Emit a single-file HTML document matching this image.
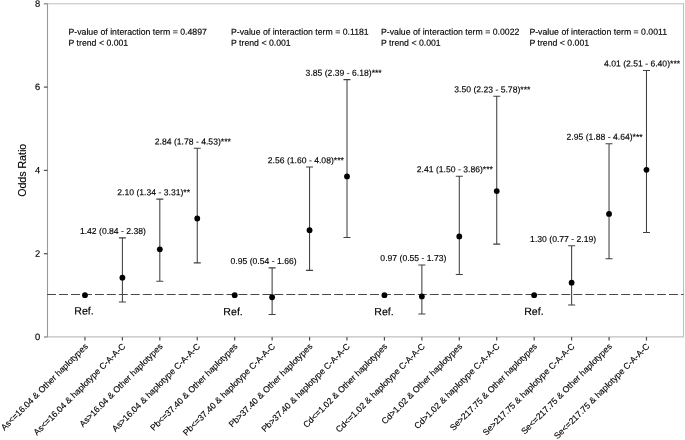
<!DOCTYPE html><html><head><meta charset="utf-8"><style>html,body{margin:0;padding:0;background:#fff}svg{display:block;will-change:transform;filter:grayscale(1)}text{font-family:"Liberation Sans",sans-serif;fill:#000;stroke:#000;stroke-width:0.14}</style></head><body>
<svg width="685" height="440" viewBox="0 0 685 440">
<rect width="685" height="440" fill="#fff"/>
<path d="M47.5 3.8H683.5V336.9H47.5" fill="none" stroke="#c0c0c0" stroke-width="1.1"/>
<path d="M47.5 3.8V337.0" fill="none" stroke="#989898" stroke-width="1.1"/>
<path d="M43.9 337.00H47.5" stroke="#808080" stroke-width="1.2"/>
<text transform="translate(40.1 340.00) rotate(0.03)" font-size="9.33" text-anchor="end">0</text>
<path d="M43.9 253.70H47.5" stroke="#505050" stroke-width="1.2"/>
<text transform="translate(40.1 256.70) rotate(0.03)" font-size="9.33" text-anchor="end">2</text>
<path d="M43.9 170.40H47.5" stroke="#505050" stroke-width="1.2"/>
<text transform="translate(40.1 173.40) rotate(0.03)" font-size="9.33" text-anchor="end">4</text>
<path d="M43.9 87.10H47.5" stroke="#505050" stroke-width="1.2"/>
<text transform="translate(40.1 90.10) rotate(0.03)" font-size="9.33" text-anchor="end">6</text>
<path d="M43.9 3.80H47.5" stroke="#808080" stroke-width="1.2"/>
<text transform="translate(40.1 6.80) rotate(0.03)" font-size="9.33" text-anchor="end">8</text>
<path d="M84.95 337.0V340.6" stroke="#505050" stroke-width="1.2"/>
<path d="M122.39 337.0V340.6" stroke="#505050" stroke-width="1.2"/>
<path d="M159.82 337.0V340.6" stroke="#505050" stroke-width="1.2"/>
<path d="M197.25 337.0V340.6" stroke="#505050" stroke-width="1.2"/>
<path d="M234.69 337.0V340.6" stroke="#505050" stroke-width="1.2"/>
<path d="M272.12 337.0V340.6" stroke="#505050" stroke-width="1.2"/>
<path d="M309.56 337.0V340.6" stroke="#505050" stroke-width="1.2"/>
<path d="M347.00 337.0V340.6" stroke="#505050" stroke-width="1.2"/>
<path d="M384.43 337.0V340.6" stroke="#505050" stroke-width="1.2"/>
<path d="M421.87 337.0V340.6" stroke="#505050" stroke-width="1.2"/>
<path d="M459.30 337.0V340.6" stroke="#505050" stroke-width="1.2"/>
<path d="M496.74 337.0V340.6" stroke="#505050" stroke-width="1.2"/>
<path d="M534.17 337.0V340.6" stroke="#505050" stroke-width="1.2"/>
<path d="M571.61 337.0V340.6" stroke="#505050" stroke-width="1.2"/>
<path d="M609.04 337.0V340.6" stroke="#505050" stroke-width="1.2"/>
<path d="M646.48 337.0V340.6" stroke="#505050" stroke-width="1.2"/>
<path d="M47.1 294.50H683.5" stroke="#484848" stroke-width="1.15" stroke-dasharray="8.9 3.06"/>
<path d="M122.39 302.01V237.87M118.89 302.01H125.89M118.89 237.87H125.89" stroke="#404040" stroke-width="1.05" fill="none"/>
<path d="M159.82 281.19V199.14M156.32 281.19H163.32M156.32 199.14H163.32" stroke="#404040" stroke-width="1.05" fill="none"/>
<path d="M197.25 262.86V148.33M193.75 262.86H200.75M193.75 148.33H200.75" stroke="#404040" stroke-width="1.05" fill="none"/>
<path d="M272.12 314.51V267.86M268.62 314.51H275.62M268.62 267.86H275.62" stroke="#404040" stroke-width="1.05" fill="none"/>
<path d="M309.56 270.36V167.07M306.06 270.36H313.06M306.06 167.07H313.06" stroke="#404040" stroke-width="1.05" fill="none"/>
<path d="M347.00 237.46V79.60M343.50 237.46H350.50M343.50 79.60H350.50" stroke="#404040" stroke-width="1.05" fill="none"/>
<path d="M421.87 314.09V264.95M418.37 314.09H425.37M418.37 264.95H425.37" stroke="#404040" stroke-width="1.05" fill="none"/>
<path d="M459.30 274.52V176.23M455.80 274.52H462.80M455.80 176.23H462.80" stroke="#404040" stroke-width="1.05" fill="none"/>
<path d="M496.74 244.12V96.26M493.24 244.12H500.24M493.24 96.26H500.24" stroke="#404040" stroke-width="1.05" fill="none"/>
<path d="M571.61 304.93V245.79M568.11 304.93H575.11M568.11 245.79H575.11" stroke="#404040" stroke-width="1.05" fill="none"/>
<path d="M609.04 258.70V143.74M605.54 258.70H612.54M605.54 143.74H612.54" stroke="#404040" stroke-width="1.05" fill="none"/>
<path d="M646.48 232.46V70.44M642.98 232.46H649.98M642.98 70.44H649.98" stroke="#404040" stroke-width="1.05" fill="none"/>
<circle cx="84.95" cy="295.15" r="2.9" fill="#000"/>
<text transform="translate(83.95 314.60) rotate(0.03)" font-size="10.6" text-anchor="middle">Ref.</text>
<circle cx="122.39" cy="277.66" r="2.9" fill="#000"/>
<text transform="translate(79.89 233.97) rotate(0.03)" font-size="8.62">1.42 (0.84 - 2.38)</text>
<circle cx="159.82" cy="249.34" r="2.9" fill="#000"/>
<text transform="translate(117.32 195.24) rotate(0.03)" font-size="8.62">2.10 (1.34 - 3.31)**</text>
<circle cx="197.25" cy="218.51" r="2.9" fill="#000"/>
<text transform="translate(154.75 144.43) rotate(0.03)" font-size="8.62">2.84 (1.78 - 4.53)***</text>
<circle cx="234.69" cy="295.15" r="2.9" fill="#000"/>
<text transform="translate(233.09 315.30) rotate(0.03)" font-size="10.6" text-anchor="middle">Ref.</text>
<circle cx="272.12" cy="297.23" r="2.9" fill="#000"/>
<text transform="translate(230.53 263.96) rotate(0.03)" font-size="8.62">0.95 (0.54 - 1.66)</text>
<circle cx="309.56" cy="230.18" r="2.9" fill="#000"/>
<text transform="translate(267.76 163.17) rotate(0.03)" font-size="8.62">2.56 (1.60 - 4.08)***</text>
<circle cx="347.00" cy="176.45" r="2.9" fill="#000"/>
<text transform="translate(305.60 75.70) rotate(0.03)" font-size="8.62">3.85 (2.39 - 6.18)***</text>
<circle cx="384.43" cy="295.15" r="2.9" fill="#000"/>
<text transform="translate(384.03 315.30) rotate(0.03)" font-size="10.6" text-anchor="middle">Ref.</text>
<circle cx="421.87" cy="296.40" r="2.9" fill="#000"/>
<text transform="translate(380.37 261.05) rotate(0.03)" font-size="8.62">0.97 (0.55 - 1.73)</text>
<circle cx="459.30" cy="236.42" r="2.9" fill="#000"/>
<text transform="translate(416.80 172.33) rotate(0.03)" font-size="8.62">2.41 (1.50 - 3.86)***</text>
<circle cx="496.74" cy="191.03" r="2.9" fill="#000"/>
<text transform="translate(454.24 92.36) rotate(0.03)" font-size="8.62">3.50 (2.23 - 5.78)***</text>
<circle cx="534.17" cy="295.15" r="2.9" fill="#000"/>
<text transform="translate(533.87 315.10) rotate(0.03)" font-size="10.6" text-anchor="middle">Ref.</text>
<circle cx="571.61" cy="282.66" r="2.9" fill="#000"/>
<text transform="translate(530.11 241.89) rotate(0.03)" font-size="8.62">1.30 (0.77 - 2.19)</text>
<circle cx="609.04" cy="213.93" r="2.9" fill="#000"/>
<text transform="translate(566.54 139.84) rotate(0.03)" font-size="8.62">2.95 (1.88 - 4.64)***</text>
<circle cx="646.48" cy="169.78" r="2.9" fill="#000"/>
<text transform="translate(603.98 66.54) rotate(0.03)" font-size="8.62">4.01 (2.51 - 6.40)***</text>
<text transform="translate(68.5 34.7) rotate(0.03)" font-size="8.72">P-value of interaction term = 0.4897</text>
<text transform="translate(68.5 45.7) rotate(0.03)" font-size="8.72">P trend &lt; 0.001</text>
<text transform="translate(231 34.7) rotate(0.03)" font-size="8.72">P-value of interaction term = 0.1181</text>
<text transform="translate(231 45.7) rotate(0.03)" font-size="8.72">P trend &lt; 0.001</text>
<text transform="translate(381 34.7) rotate(0.03)" font-size="8.72">P-value of interaction term = 0.0022</text>
<text transform="translate(381 45.7) rotate(0.03)" font-size="8.72">P trend &lt; 0.001</text>
<text transform="translate(529.4 34.7) rotate(0.03)" font-size="8.72">P-value of interaction term = 0.0011</text>
<text transform="translate(529.4 45.7) rotate(0.03)" font-size="8.72">P trend &lt; 0.001</text>
<text transform="translate(25.8 170.3) rotate(-90)" font-size="10.6" text-anchor="middle">Odds Ratio</text>
<text transform="translate(88.45 347.0) rotate(-45)" font-size="8.7" text-anchor="end">As&lt;=16.04 &amp; Other haplotypes</text>
<text transform="translate(125.89 347.0) rotate(-45)" font-size="8.7" text-anchor="end">As&lt;=16.04 &amp; haplotype C-A-A-C</text>
<text transform="translate(163.32 347.0) rotate(-45)" font-size="8.7" text-anchor="end">As&gt;16.04 &amp; Other haplotypes</text>
<text transform="translate(200.75 347.0) rotate(-45)" font-size="8.7" text-anchor="end">As&gt;16.04 &amp; haplotype C-A-A-C</text>
<text transform="translate(238.19 347.0) rotate(-45)" font-size="8.7" text-anchor="end">Pb&lt;=37.40 &amp; Other haplotypes</text>
<text transform="translate(275.62 347.0) rotate(-45)" font-size="8.7" text-anchor="end">Pb&lt;=37.40 &amp; haplotype C-A-A-C</text>
<text transform="translate(313.06 347.0) rotate(-45)" font-size="8.7" text-anchor="end">Pb&gt;37.40 &amp; Other haplotypes</text>
<text transform="translate(350.50 347.0) rotate(-45)" font-size="8.7" text-anchor="end">Pb&gt;37.40 &amp; haplotype C-A-A-C</text>
<text transform="translate(387.93 347.0) rotate(-45)" font-size="8.7" text-anchor="end">Cd&lt;=1.02 &amp; Other haplotypes</text>
<text transform="translate(425.37 347.0) rotate(-45)" font-size="8.7" text-anchor="end">Cd&lt;=1.02 &amp; haplotype C-A-A-C</text>
<text transform="translate(462.80 347.0) rotate(-45)" font-size="8.7" text-anchor="end">Cd&gt;1.02 &amp; Other haplotypes</text>
<text transform="translate(500.24 347.0) rotate(-45)" font-size="8.7" text-anchor="end">Cd&gt;1.02 &amp; haplotype C-A-A-C</text>
<text transform="translate(537.67 347.0) rotate(-45)" font-size="8.7" text-anchor="end">Se&gt;217.75 &amp; Other haplotypes</text>
<text transform="translate(575.11 347.0) rotate(-45)" font-size="8.7" text-anchor="end">Se&gt;217.75 &amp; haplotype C-A-A-C</text>
<text transform="translate(612.54 347.0) rotate(-45)" font-size="8.7" text-anchor="end">Se&lt;=217.75 &amp; Other haplotypes</text>
<text transform="translate(649.98 347.0) rotate(-45)" font-size="8.7" text-anchor="end">Se&lt;=217.75 &amp; haplotype C-A-A-C</text>
</svg></body></html>
